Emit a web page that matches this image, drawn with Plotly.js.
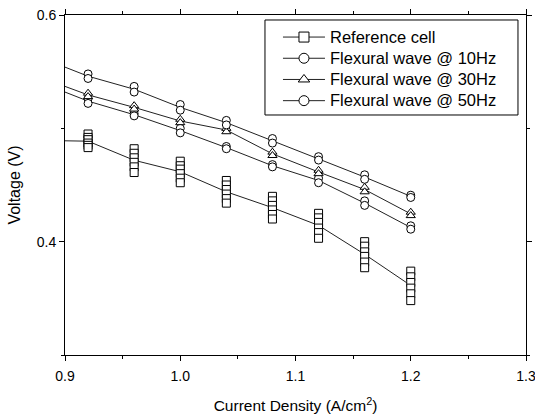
<!DOCTYPE html>
<html>
<head>
<meta charset="utf-8">
<script src="https://cdn.plot.ly/plotly-3.0.1.min.js"></script>
<style>html,body{margin:0;padding:0;background:#fff;}#chart{width:535px;height:420px;}</style>
</head>
<body>
<div id="chart"></div>
<script>
// Current density positions (A/cm^2)
const currentDensity = [0.92, 0.96, 1.00, 1.04, 1.08, 1.12, 1.16, 1.20];
const lineStartX = 0.90;

// Repeated voltage measurements (V) at each current density
const referenceCell = [
  [0.495, 0.492, 0.490, 0.487, 0.485, 0.483],
  [0.482, 0.478, 0.474, 0.470, 0.466, 0.461],
  [0.471, 0.467, 0.464, 0.460, 0.456, 0.452],
  [0.454, 0.450, 0.446, 0.442, 0.438, 0.434],
  [0.440, 0.436, 0.432, 0.428, 0.424, 0.420],
  [0.425, 0.421, 0.417, 0.412, 0.408, 0.403],
  [0.400, 0.396, 0.391, 0.387, 0.382, 0.377],
  [0.374, 0.369, 0.364, 0.359, 0.354, 0.348]
];
const wave10Hz = [
  [0.526, 0.522], [0.513, 0.511], [0.500, 0.496], [0.484, 0.482],
  [0.468, 0.466], [0.456, 0.452], [0.436, 0.432], [0.414, 0.411]
];
const wave30Hz = [
  [0.531, 0.528], [0.520, 0.517], [0.508, 0.505], [0.500, 0.497],
  [0.479, 0.476], [0.463, 0.460], [0.448, 0.444], [0.426, 0.423]
];
const wave50Hz = [
  [0.548, 0.544], [0.537, 0.532], [0.521, 0.516], [0.507, 0.503],
  [0.491, 0.487], [0.475, 0.472], [0.459, 0.455], [0.441, 0.439]
];
// Where each connecting line starts at the left axis (V)
const lineStartV = {ref: 0.489, w10: 0.532, w30: 0.537, w50: 0.554};

const seriesNames = ["Reference cell", "Flexural wave @ 10Hz", "Flexural wave @ 30Hz", "Flexural wave @ 50Hz"];
const xTickLabels = ["0.9", "1.0", "1.1", "1.2", "1.3"];

const series = [
  {name: seriesNames[0], data: referenceCell, start: lineStartV.ref, symbol: "square"},
  {name: seriesNames[1], data: wave10Hz, start: lineStartV.w10, symbol: "circle"},
  {name: seriesNames[2], data: wave30Hz, start: lineStartV.w30, symbol: "triangle-up"},
  {name: seriesNames[3], data: wave50Hz, start: lineStartV.w50, symbol: "circle"}
];

const FONT = "Liberation Sans, Arial, sans-serif";
const lineColor = "#222";
const traces = [];
series.forEach(s => {
  const means = s.data.map(g => g.reduce((a, b) => a + b, 0) / g.length);
  traces.push({
    x: [lineStartX].concat(currentDensity), y: [s.start].concat(means),
    mode: "lines", line: {color: lineColor, width: 1}, showlegend: false, hoverinfo: "skip"
  });
});
series.forEach(s => {
  const xs = [], ys = [];
  s.data.forEach((g, i) => g.forEach(v => { xs.push(currentDensity[i]); ys.push(v); }));
  traces.push({
    x: xs, y: ys, mode: "markers", showlegend: false,
    marker: {symbol: s.symbol, size: 8, color: "#fff", line: {color: "#000", width: 1}}
  });
});
series.forEach(s => {
  traces.push({
    x: [null], y: [null], name: '<span style="font-size:16.5px">' + s.name + '</span>',
    mode: "lines+markers",
    line: {color: lineColor, width: 1},
    marker: {symbol: s.symbol, size: 10, color: "#fff", line: {color: "#000", width: 1}}
  });
});

const axisCommon = {
  showline: true, linecolor: "#000", linewidth: 1, mirror: "ticks",
  ticks: "outside", ticklen: 5, tickcolor: "#000", tickwidth: 1,
  showgrid: false, zeroline: false, ticklabeloverflow: "allow",
  tickfont: {family: FONT, size: 14, color: "#000"}
};

const layout = {
  width: 535, height: 420,
  margin: {l: 65, r: 9, t: 15, b: 65},
  paper_bgcolor: "#fff", plot_bgcolor: "#fff",
  font: {family: FONT, color: "#000"},
  xaxis: Object.assign({}, axisCommon, {
    range: [0.9, 1.3], tickvals: [0.9, 1.0, 1.1, 1.2, 1.3], ticktext: xTickLabels,
    ticklabelstandoff: 3,
    minor: {dtick: 0.05, ticks: "outside", ticklen: 3, tickcolor: "#000"},
    title: {text: "Current Density (A/cm<sup>2</sup>)", font: {family: FONT, size: 15.5}, standoff: 17}
  }),
  yaxis: Object.assign({}, axisCommon, {
    range: [0.3, 0.6], tick0: 0.4, dtick: 0.2, tickformat: ".1f",
    minor: {dtick: 0.1, ticks: "outside", ticklen: 3, tickcolor: "#000"},
    title: {text: "Voltage (V)", font: {family: FONT, size: 16}, standoff: 12}
  }),
  legend: {
    x: 0.462, y: 0.981, xanchor: "left", yanchor: "top",
    bgcolor: "rgba(0,0,0,0)", borderwidth: 0, itemwidth: 42,
    font: {family: FONT, size: 14, color: "#000"}, tracegroupgap: 0
  },
  shapes: [{
    type: "rect", xref: "paper", yref: "paper",
    x0: 0.4338, x1: 0.9826, y0: 0.7059, y1: 0.9853,
    line: {color: "#000", width: 1}, fillcolor: "#fff", layer: "below"
  }]
};

Plotly.newPlot("chart", traces, layout, {displayModeBar: false, staticPlot: true});
</script>
</body>
</html>
